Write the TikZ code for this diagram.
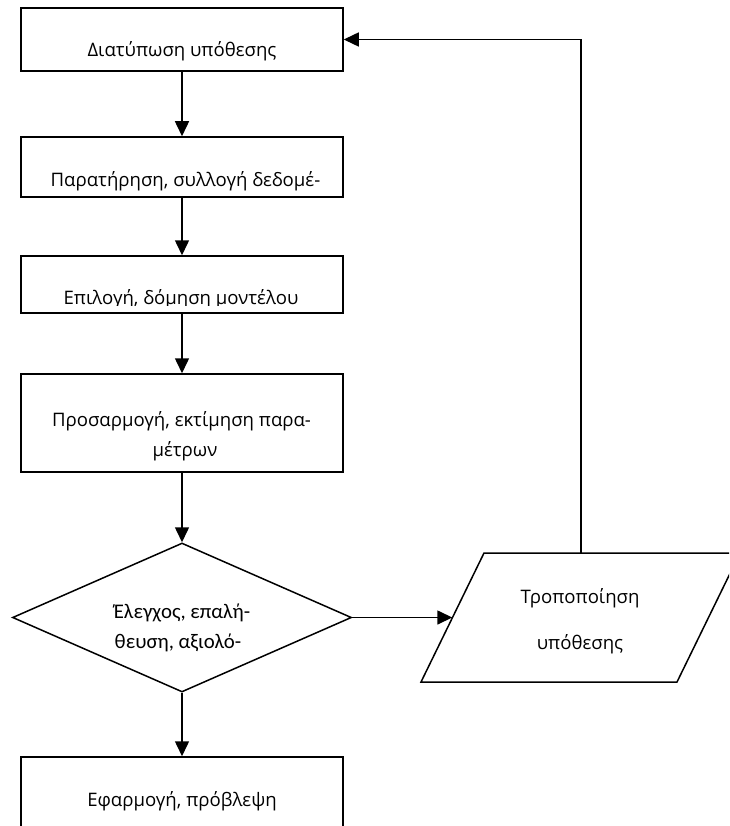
\documentclass[tikz,border=0pt]{standalone}
\usepackage{fontspec}
\setmainfont{Open Sans}
\newfontfamily\narrowfont{Carlito}
\usetikzlibrary{arrows.meta,shapes.geometric}
\begin{document}
\begin{tikzpicture}[x=1pt,y=-1pt,
  line width=1.5pt,
  stepbox/.style={draw=black, rectangle, inner sep=0pt, minimum width=322pt},
  decision/.style={draw=black, diamond, inner sep=0pt, minimum width=339pt, minimum height=149pt},
  txt/.style={anchor=base, inner sep=0pt, font=\fontsize{18.6}{22}\selectfont},
  ntxt/.style={anchor=base, inner sep=0pt, font=\narrowfont\fontsize{20.8}{25}\selectfont},
  flow/.style={-{Triangle[length=15pt,width=14pt]}, line width=1.5pt}]
\useasboundingbox (0,0) rectangle (729,826);
\clip (0,0) rectangle (729,826);
\fill[white] (0,0) rectangle (729,826);

% process boxes
\node[stepbox, minimum height=63pt] (b1) at (182,39.5) {};
\node[stepbox, minimum height=60pt] (b2) at (182,167) {};
\node[stepbox, minimum height=57pt] (b3) at (182,284.5) {};
\node[stepbox, minimum height=98pt] (b4) at (182,423) {};
\node[decision] (d) at (182,617.5) {};
\node[stepbox, minimum height=100pt] (b5) at (182,807) {};

% parallelogram for the revision step
\coordinate (pTL) at (484,553);
\coordinate (pTR) at (740,553);
\coordinate (pBR) at (677,682);
\coordinate (pBL) at (421,682);
\coordinate (pIn) at (452.3,617.5);
\coordinate (pTop) at (581,553);
\draw (pTL) -- (pTR) -- (pBR) -- (pBL) -- cycle;

% labels
\node[txt] (t1) at (182,57) {Διατύπωση υπόθεσης};
\node[txt] (t2) at (185.5,187) {Παρατήρηση, συλλογή δεδομέ-};
\begin{scope}
  \clip (21,256) rectangle (343,305.5);
  \node[txt] (t3) at (181,304) {Επιλογή, δόμηση μοντέλου};
\end{scope}
\node[txt] (t4a) at (181.5,426) {Προσαρμογή, εκτίμηση παρα-};
\node[txt] (t4b) at (185,456) {μέτρων};
\node[ntxt] (t5a) at (182,618) {Έλεγχος, επαλή-};
\node[ntxt] (t5b) at (178,648) {θευση, αξιολό-};
\node[txt] (t6a) at (580,603) {Τροποποίηση};
\node[txt] (t6b) at (580,649) {υπόθεσης};
\node[txt] (t7) at (182,806) {Εφαρμογή, πρόβλεψη};

% connectors
\draw[flow] (b1.south) -- (b2.north);
\draw[flow] (b2.south) -- (b3.north);
\draw[flow] (b3.south) -- (b4.north);
\draw[flow] (b4.south) -- (d.north);
\draw[flow] (d.south) -- (b5.north);
\draw[flow] (d.east) -- (pIn);
\draw[flow] (pTop) |- (b1.east);
\end{tikzpicture}
\end{document}
